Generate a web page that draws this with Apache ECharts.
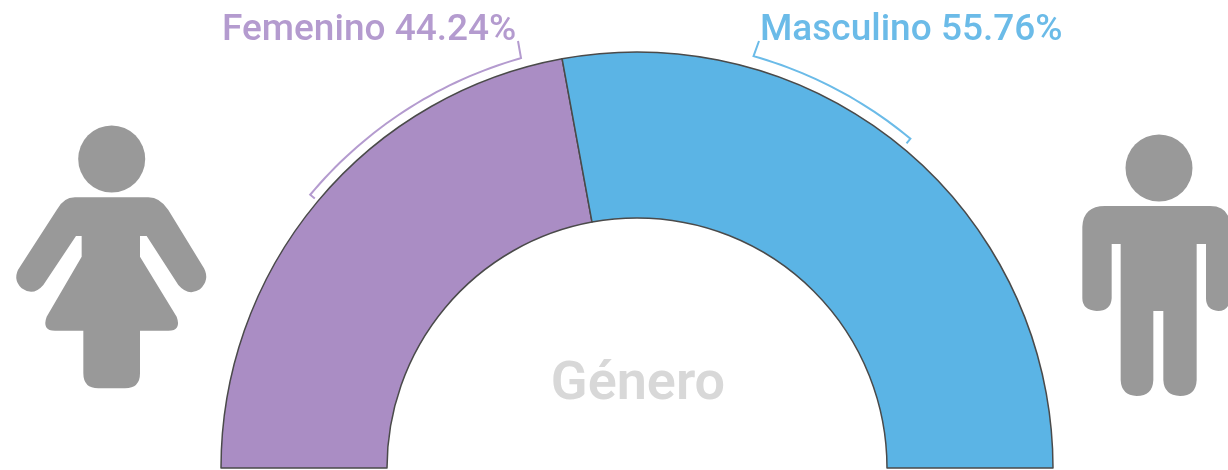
<!DOCTYPE html>
<html><head><meta charset="utf-8">
<style>html,body{margin:0;padding:0;background:#fff}#c{width:1228px;height:470px;filter:blur(0.7px)}</style>
<script src="https://cdn.jsdelivr.net/npm/echarts@6/dist/echarts.min.js"></script>
</head><body><div id="c"></div>
<script>
const categories = ['Femenino', 'Masculino'];
const shares = [44.24, 55.76];
const centerTitle = 'Género';
const sliceColors = ['#AA8DC4', '#5BB4E5'];
const labelColors = ['#B49BCF', '#6BBBE8'];

const womanPath = 'M225 262 L445 262 Q480 262 505 300 L612 475 Q630 510 600 538 Q565 560 535 525 L440 378 L420 378 L420 440 L530 620 Q545 662 505 662 L420 662 L420 790 Q420 835 375 835 L295 835 Q250 835 250 790 L250 662 L165 662 Q125 662 140 620 L245 440 L245 378 L228 378 L130 525 Q100 560 65 535 Q35 505 60 470 L170 300 Q190 262 225 262 Z';
const manPath = 'M165 288 L480 288 Q540 288 540 350 L540 570 Q535 603 505 603 Q468 600 468 565 L468 402 L440 402 L440 810 Q438 858 390 858 Q342 856 340 810 L340 603 L310 603 L310 810 Q308 858 260 858 Q214 856 212 810 L212 402 L185 402 L185 565 Q183 603 140 603 Q97 600 97 565 L97 350 Q100 288 165 288 Z';
echarts.graphic.registerShape('womanIcon', echarts.graphic.extendPath(womanPath));
echarts.graphic.registerShape('manIcon', echarts.graphic.extendPath(manPath));

const cx = 637, cy = 468, rOut = 416, rIn = 250;
const chart = echarts.init(document.getElementById('c'), null, {renderer: 'canvas'});

function bracket(fromDeg, toDeg, r, color, tickTo) {
  const rad = d => d * Math.PI / 180;
  const pt = (d, rr) => [cx + rr * Math.cos(rad(d)), cy - rr * Math.sin(rad(d))];
  const pts = [pt(fromDeg, r - 6)];
  const step = toDeg > fromDeg ? 1 : -1;
  for (let d = fromDeg; step > 0 ? d <= toDeg : d >= toDeg; d += step) pts.push(pt(d, r));
  pts.push(pt(toDeg, r));
  pts.push(tickTo);
  return {type: 'polyline', silent: true, shape: {points: pts}, style: {stroke: color, fill: null, lineWidth: 2}};
}
function icon(type, ox, oy) {
  return {type, silent: true, x: ox, y: oy, scaleX: 1/3, scaleY: 1/3, style: {fill: '#999999'}};
}
const labelFont = '500 37px Roboto';

chart.setOption({
  animation: false,
  backgroundColor: '#ffffff',
  series: [{
    type: 'pie',
    center: [cx, cy],
    radius: [rIn, rOut],
    startAngle: 180,
    endAngle: 360,
    silent: true,
    label: {show: false},
    labelLine: {show: false},
    itemStyle: {borderColor: '#4a4a4a', borderWidth: 1.5},
    data: categories.map((name, i) => ({name, value: shares[i], itemStyle: {color: sliceColors[i]}}))
  }],
  graphic: {elements: [
    icon('womanIcon', 0, 110),
    {type: 'circle', silent: true, shape: {cx: 111.7, cy: 159, r: 33.5}, style: {fill: '#999999'}},
    icon('manIcon', 1050, 110),
    {type: 'circle', silent: true, shape: {cx: 1159, cy: 168, r: 33.5}, style: {fill: '#999999'}},
    bracket(140.1, 105.8, 426, '#B49BCF', [518, 41]),
    bracket(50.3, 74.2, 428, '#6BBBE8', [759, 41]),
    {type: 'text', silent: true, x: 222, y: 31, style: {text: categories[0] + ' ' + shares[0].toFixed(2) + '%', font: labelFont, fill: labelColors[0], verticalAlign: 'middle'}},
    {type: 'text', silent: true, x: 760, y: 31, style: {text: categories[1] + ' ' + shares[1].toFixed(2) + '%', font: labelFont, fill: labelColors[1], verticalAlign: 'middle'}},
    {type: 'text', silent: true, x: 638, y: 385, style: {text: centerTitle, font: '600 54px Roboto', fill: '#D8D8D8', align: 'center', verticalAlign: 'middle'}}
  ]}
});
</script></body></html>
